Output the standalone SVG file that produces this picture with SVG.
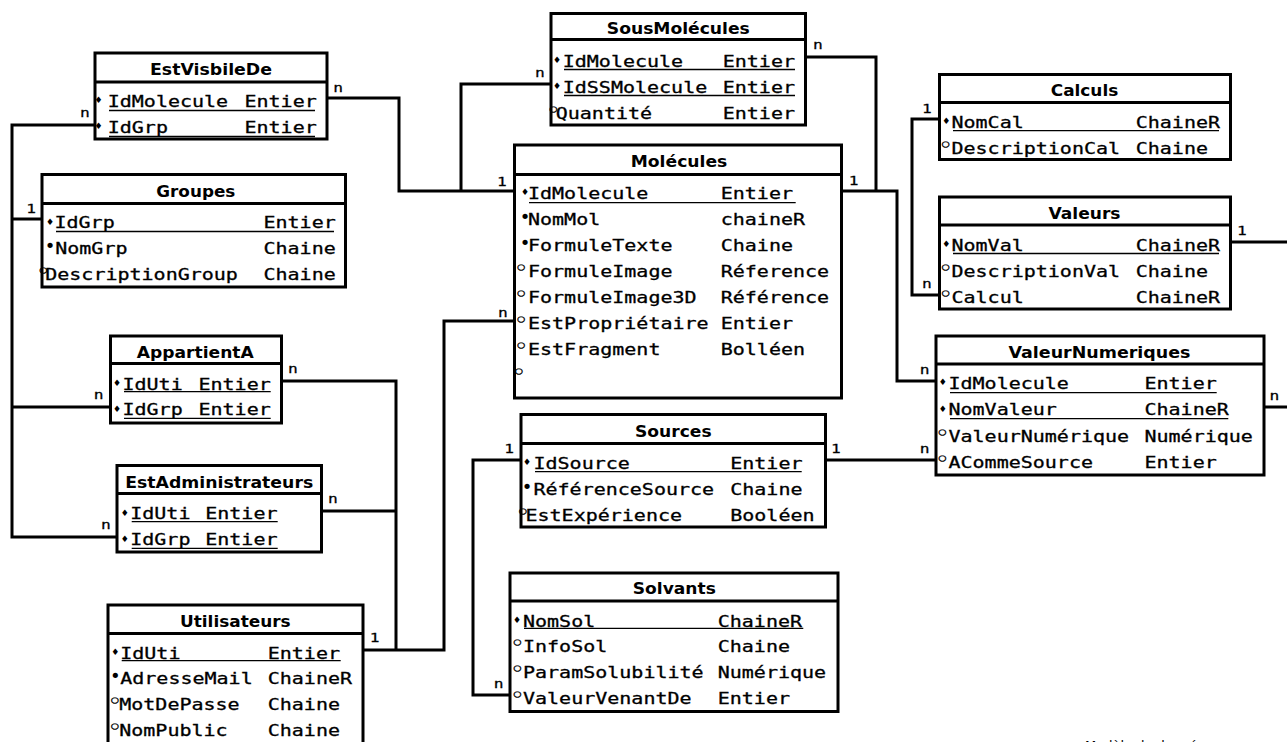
<svg xmlns="http://www.w3.org/2000/svg" width="1287" height="742" viewBox="0 0 1287 742">
<style>
.box{fill:#fff;stroke:#000;stroke-width:3}
.sep{stroke:#000;stroke-width:3}
.t{font-family:"DejaVu Sans",sans-serif;font-weight:bold;font-size:16px;text-anchor:middle;fill:#000}
.a{font-family:"DejaVu Sans Mono",monospace;font-size:16px;fill:#000;stroke:#000;stroke-width:0.3}
.ob{font-family:"DejaVu Sans",sans-serif;font-size:20px}
.u{stroke:#000;stroke-width:1.3}
.d{font-family:"DejaVu Sans",sans-serif;font-size:9px;text-anchor:middle;fill:#000}
.p{font-family:"DejaVu Sans",sans-serif;font-size:18px;text-anchor:middle;fill:#000}
.l{font-family:"DejaVu Sans Mono",monospace;font-size:13px;text-anchor:middle;fill:#000;stroke:#000;stroke-width:0.25}
.c{fill:none;stroke:#000;stroke-width:3}
.cap{font-family:"DejaVu Sans",sans-serif;font-size:13px;fill:#000}
</style>
<rect width="1287" height="742" fill="#fff"/>

<g id="connectors">
<path class="c" d="M328,98 H399 V191 H513"/>
<path class="c" d="M461,191 V84 H550"/>
<path class="c" d="M807,57 H876 V191"/>
<path class="c" d="M843,191 H897 V381 H935"/>
<path class="c" d="M938,119 H912 V295 H938"/>
<path class="c" d="M1232,242 H1287"/>
<path class="c" d="M1265,407 H1287"/>
<path class="c" d="M827,460 H935"/>
<path class="c" d="M520,460 H473 V695 H509"/>
<path class="c" d="M364,650 H444 V321 H513"/>
<path class="c" d="M283,381 H396 V650"/>
<path class="c" d="M323,511 H396"/>
<path class="c" d="M94,125 H12 V537 H116"/>
<path class="c" d="M12,219 H41"/>
<path class="c" d="M12,407 H109"/>
<g transform="scale(1.25 1)">
<text class="l" x="270.6" y="92">n</text>
<text class="l" x="68" y="117">n</text>
<text class="l" x="25" y="213.5">1</text>
<text class="l" x="432" y="76.7">n</text>
<text class="l" x="401.6" y="185.7">1</text>
<text class="l" x="654.4" y="49.3">n</text>
<text class="l" x="683" y="185">1</text>
<text class="l" x="402.4" y="317.3">n</text>
<text class="l" x="741.6" y="113.3">1</text>
<text class="l" x="741.6" y="288.5">n</text>
<text class="l" x="993.6" y="235">1</text>
<text class="l" x="739.8" y="374">n</text>
<text class="l" x="1019.6" y="400">n</text>
<text class="l" x="739.8" y="452.7">n</text>
<text class="l" x="668.8" y="453.3">1</text>
<text class="l" x="407.4" y="453.3">1</text>
<text class="l" x="399" y="688">n</text>
<text class="l" x="234.4" y="373">n</text>
<text class="l" x="79" y="399">n</text>
<text class="l" x="266.4" y="503">n</text>
<text class="l" x="84.8" y="529">n</text>
<text class="l" x="299.8" y="642">1</text>
</g>
</g>

<g id="EstVisbileDe">
<rect class="box" x="95" y="53" width="232" height="86"/>
<line class="sep" x1="95" y1="82" x2="327" y2="82"/>
<text class="t" x="211" y="74.5" textLength="122" lengthAdjust="spacingAndGlyphs">EstVisbileDe</text>
<g transform="scale(1.25 1)">
<text class="a" x="86.2" y="107">IdMolecule</text><text class="a" x="195.6" y="107">Entier</text>
<text class="a" x="86.2" y="133">IdGrp</text><text class="a" x="195.6" y="133">Entier</text>
</g>
<text class="d" x="98.5" y="103">♦</text>
<text class="d" x="98.5" y="129">♦</text>
<line class="u" x1="109" y1="110.5" x2="315" y2="110.5"/>
<line class="u" x1="109" y1="136.5" x2="315" y2="136.5"/>
</g>

<g id="Groupes">
<rect class="box" x="42" y="174.5" width="303.5" height="112.5"/>
<line class="sep" x1="42" y1="203.5" x2="345.5" y2="203.5"/>
<text class="t" x="195.8" y="196.5" textLength="79" lengthAdjust="spacingAndGlyphs">Groupes</text>
<g transform="scale(1.25 1)">
<text class="a" x="43.6" y="228.5">IdGrp</text><text class="a" x="210.8" y="228.5">Entier</text>
<text class="a" x="44.2" y="254.5">NomGrp</text><text class="a" x="210.8" y="254.5">Chaine</text>
<text class="a" x="28.9" y="280.5"><tspan class="ob" dy="-2">◦</tspan><tspan x="36.2" dy="2">DescriptionGroup</tspan></text><text class="a" x="210.8" y="280.5">Chaine</text>
</g>
<text class="d" x="50" y="224.5">♦</text>
<text class="p" x="50" y="252.3">•</text>
<line class="u" x1="56" y1="231.5" x2="334" y2="231.5"/>
</g>

<g id="AppartientA">
<rect class="box" x="110.5" y="336" width="171" height="87"/>
<line class="sep" x1="110.5" y1="363.5" x2="281.5" y2="363.5"/>
<text class="t" x="195.3" y="357.5" textLength="117" lengthAdjust="spacingAndGlyphs">AppartientA</text>
<g transform="scale(1.25 1)">
<text class="a" x="98" y="390">IdUti</text><text class="a" x="158.8" y="390">Entier</text>
<text class="a" x="98" y="415.5">IdGrp</text><text class="a" x="158.8" y="415.5">Entier</text>
</g>
<text class="d" x="117" y="386">♦</text>
<text class="d" x="117" y="411.5">♦</text>
<line class="u" x1="124" y1="391.7" x2="270.7" y2="391.7"/>
<line class="u" x1="124" y1="418.3" x2="270.7" y2="418.3"/>
</g>

<g id="EstAdministrateurs">
<rect class="box" x="117" y="465.5" width="204.5" height="86.5"/>
<line class="sep" x1="117" y1="493.5" x2="321.5" y2="493.5"/>
<text class="t" x="219.2" y="487.5" textLength="188" lengthAdjust="spacingAndGlyphs">EstAdministrateurs</text>
<g transform="scale(1.25 1)">
<text class="a" x="104.2" y="519.5">IdUti</text><text class="a" x="164.2" y="519.5">Entier</text>
<text class="a" x="104.2" y="545.5">IdGrp</text><text class="a" x="164.2" y="545.5">Entier</text>
</g>
<text class="d" x="124.7" y="515.5">♦</text>
<text class="d" x="124.7" y="541.5">♦</text>
<line class="u" x1="131.7" y1="521.7" x2="277.7" y2="521.7"/>
<line class="u" x1="131.7" y1="548.3" x2="277.7" y2="548.3"/>
</g>

<g id="Utilisateurs">
<rect class="box" x="108" y="605" width="255" height="160"/>
<line class="sep" x1="108" y1="633.5" x2="363" y2="633.5"/>
<text class="t" x="235.3" y="627" textLength="110.5" lengthAdjust="spacingAndGlyphs">Utilisateurs</text>
<g transform="scale(1.25 1)">
<text class="a" x="96.2" y="658.7">IdUti</text><text class="a" x="214.2" y="658.7">Entier</text>
<text class="a" x="96.2" y="684.5">AdresseMail</text><text class="a" x="214.2" y="684.5">ChaineR</text>
<text class="a" x="86.1" y="710.5"><tspan class="ob" dy="-2">◦</tspan><tspan x="95.4" dy="2">MotDePasse</tspan></text><text class="a" x="214.2" y="710.5">Chaine</text>
<text class="a" x="86.1" y="736.5"><tspan class="ob" dy="-2">◦</tspan><tspan x="95.4" dy="2">NomPublic</tspan></text><text class="a" x="214.2" y="736.5">Chaine</text>
</g>
<text class="d" x="115.3" y="654.7">♦</text>
<text class="p" x="115.3" y="682.3">•</text>
<line class="u" x1="121.7" y1="660.7" x2="340.7" y2="660.7"/>
</g>

<g id="SousMolecules">
<rect class="box" x="551" y="13.5" width="254.5" height="111.5"/>
<line class="sep" x1="551" y1="39.5" x2="805.5" y2="39.5"/>
<text class="t" x="678.3" y="33.5" textLength="143" lengthAdjust="spacingAndGlyphs">SousMolécules</text>
<g transform="scale(1.25 1)">
<text class="a" x="450.2" y="67">IdMolecule</text><text class="a" x="578.2" y="67">Entier</text>
<text class="a" x="450.2" y="93">IdSSMolecule</text><text class="a" x="578.2" y="93">Entier</text>
<text class="a" x="436.9" y="119"><tspan class="ob" dy="-2">◦</tspan><tspan x="444.6" dy="2">Quantité</tspan></text><text class="a" x="578.2" y="119">Entier</text>
</g>
<text class="d" x="557" y="63">♦</text>
<text class="d" x="557" y="89">♦</text>
<line class="u" x1="564" y1="69.5" x2="795" y2="69.5"/>
<line class="u" x1="564" y1="95.5" x2="795" y2="95.5"/>
</g>

<g id="Molecules">
<rect class="box" x="514.5" y="145" width="327" height="253"/>
<line class="sep" x1="514.5" y1="174.5" x2="841.5" y2="174.5"/>
<text class="t" x="679" y="167" textLength="96.5" lengthAdjust="spacingAndGlyphs">Molécules</text>
<g transform="scale(1.25 1)">
<text class="a" x="422.4" y="199.3">IdMolecule</text><text class="a" x="576.6" y="199.3">Entier</text>
<text class="a" x="422.4" y="225.3">NomMol</text><text class="a" x="576.6" y="225.3">chaineR</text>
<text class="a" x="422.4" y="251.3">FormuleTexte</text><text class="a" x="576.6" y="251.3">Chaine</text>
<text class="a" x="411.1" y="277.3"><tspan class="ob" dy="-2">◦</tspan><tspan x="422.4" dy="2">FormuleImage</tspan></text><text class="a" x="576.6" y="277.3">Réference</text>
<text class="a" x="411.1" y="303.3"><tspan class="ob" dy="-2">◦</tspan><tspan x="422.4" dy="2">FormuleImage3D</tspan></text><text class="a" x="576.6" y="303.3">Référence</text>
<text class="a" x="411.1" y="329.3"><tspan class="ob" dy="-2">◦</tspan><tspan x="422.4" dy="2">EstPropriétaire</tspan></text><text class="a" x="576.6" y="329.3">Entier</text>
<text class="a" x="411.1" y="355.3"><tspan class="ob" dy="-2">◦</tspan><tspan x="422.4" dy="2">EstFragment</tspan></text><text class="a" x="576.6" y="355.3">Bolléen</text>
<text class="a" x="409.3" y="381.3"><tspan class="ob" dy="-2">◦</tspan></text>
</g>
<text class="d" x="525" y="195.3">♦</text>
<text class="p" x="525" y="223.1">•</text>
<text class="p" x="525" y="249.1">•</text>
<line class="u" x1="529" y1="202.7" x2="795.7" y2="202.7"/>
</g>

<g id="Calculs">
<rect class="box" x="939.5" y="74.5" width="291" height="85"/>
<line class="sep" x1="939.5" y1="102.5" x2="1230.5" y2="102.5"/>
<text class="t" x="1084.5" y="96" textLength="67.5" lengthAdjust="spacingAndGlyphs">Calculs</text>
<g transform="scale(1.25 1)">
<text class="a" x="761.2" y="127.7">NomCal</text><text class="a" x="908.6" y="127.7">ChaineR</text>
<text class="a" x="750.7" y="154"><tspan class="ob" dy="-2">◦</tspan><tspan x="761.2" dy="2">DescriptionCal</tspan></text><text class="a" x="908.6" y="154">Chaine</text>
</g>
<text class="d" x="946.3" y="123.7">♦</text>
<line class="u" x1="953" y1="130.7" x2="1219" y2="130.7"/>
</g>

<g id="Valeurs">
<rect class="box" x="939.5" y="197" width="291" height="112"/>
<line class="sep" x1="939.5" y1="225" x2="1230.5" y2="225"/>
<text class="t" x="1084.5" y="219" textLength="72" lengthAdjust="spacingAndGlyphs">Valeurs</text>
<g transform="scale(1.25 1)">
<text class="a" x="761.2" y="251">NomVal</text><text class="a" x="908.6" y="251">ChaineR</text>
<text class="a" x="750.7" y="277"><tspan class="ob" dy="-2">◦</tspan><tspan x="761.2" dy="2">DescriptionVal</tspan></text><text class="a" x="908.6" y="277">Chaine</text>
<text class="a" x="750.7" y="303"><tspan class="ob" dy="-2">◦</tspan><tspan x="761.2" dy="2">Calcul</tspan></text><text class="a" x="908.6" y="303">ChaineR</text>
</g>
<text class="d" x="946.3" y="247">♦</text>
<line class="u" x1="953" y1="253.5" x2="1219" y2="253.5"/>
</g>

<g id="ValeurNumeriques">
<rect class="box" x="936" y="336" width="328" height="139"/>
<line class="sep" x1="936" y1="364" x2="1264" y2="364"/>
<text class="t" x="1099.5" y="358" textLength="182" lengthAdjust="spacingAndGlyphs">ValeurNumeriques</text>
<g transform="scale(1.25 1)">
<text class="a" x="758.8" y="389.3">IdMolecule</text><text class="a" x="915.6" y="389.3">Entier</text>
<text class="a" x="758.8" y="415.5">NomValeur</text><text class="a" x="915.6" y="415.5">ChaineR</text>
<text class="a" x="748.1" y="441.7"><tspan class="ob" dy="-2">◦</tspan><tspan x="758.8" dy="2">ValeurNumérique</tspan></text><text class="a" x="915.6" y="441.7">Numérique</text>
<text class="a" x="748.1" y="468"><tspan class="ob" dy="-2">◦</tspan><tspan x="758.8" dy="2">ACommeSource</tspan></text><text class="a" x="915.6" y="468">Entier</text>
</g>
<text class="d" x="942.8" y="385.3">♦</text>
<text class="d" x="942.8" y="411.5">♦</text>
<line class="u" x1="950" y1="392.7" x2="1216.7" y2="392.7"/>
<line class="u" x1="950" y1="418.7" x2="1228.3" y2="418.7"/>
</g>

<g id="Sources">
<rect class="box" x="521" y="414.5" width="304.5" height="112.5"/>
<line class="sep" x1="521" y1="443.5" x2="825.5" y2="443.5"/>
<text class="t" x="673.3" y="437" textLength="76.5" lengthAdjust="spacingAndGlyphs">Sources</text>
<g transform="scale(1.25 1)">
<text class="a" x="426.8" y="469.3">IdSource</text><text class="a" x="584.2" y="469.3">Entier</text>
<text class="a" x="426.8" y="495">RéférenceSource</text><text class="a" x="584.2" y="495">Chaine</text>
<text class="a" x="412.5" y="521"><tspan class="ob" dy="-2">◦</tspan><tspan x="420.4" dy="2">EstExpérience</tspan></text><text class="a" x="584.2" y="521">Booléen</text>
</g>
<text class="d" x="527" y="465.3">♦</text>
<text class="p" x="527" y="492.8">•</text>
<line class="u" x1="535" y1="471.7" x2="801.7" y2="471.7"/>
</g>

<g id="Solvants">
<rect class="box" x="510" y="573" width="328" height="138.5"/>
<line class="sep" x1="510" y1="601" x2="838" y2="601"/>
<text class="t" x="674.3" y="594" textLength="83" lengthAdjust="spacingAndGlyphs">Solvants</text>
<g transform="scale(1.25 1)">
<text class="a" x="418.4" y="627">NomSol</text><text class="a" x="574.2" y="627">ChaineR</text>
<text class="a" x="408.1" y="652.5"><tspan class="ob" dy="-2">◦</tspan><tspan x="418.4" dy="2">InfoSol</tspan></text><text class="a" x="574.2" y="652.5">Chaine</text>
<text class="a" x="408.1" y="678.5"><tspan class="ob" dy="-2">◦</tspan><tspan x="418.4" dy="2">ParamSolubilité</tspan></text><text class="a" x="574.2" y="678.5">Numérique</text>
<text class="a" x="408.1" y="704.5"><tspan class="ob" dy="-2">◦</tspan><tspan x="418.4" dy="2">ValeurVenantDe</tspan></text><text class="a" x="574.2" y="704.5">Entier</text>
</g>
<text class="d" x="517" y="623">♦</text>
<line class="u" x1="524" y1="628.3" x2="803.3" y2="628.3"/>
</g>

<text class="cap" x="1085" y="750">Modèle de données</text>
</svg>
